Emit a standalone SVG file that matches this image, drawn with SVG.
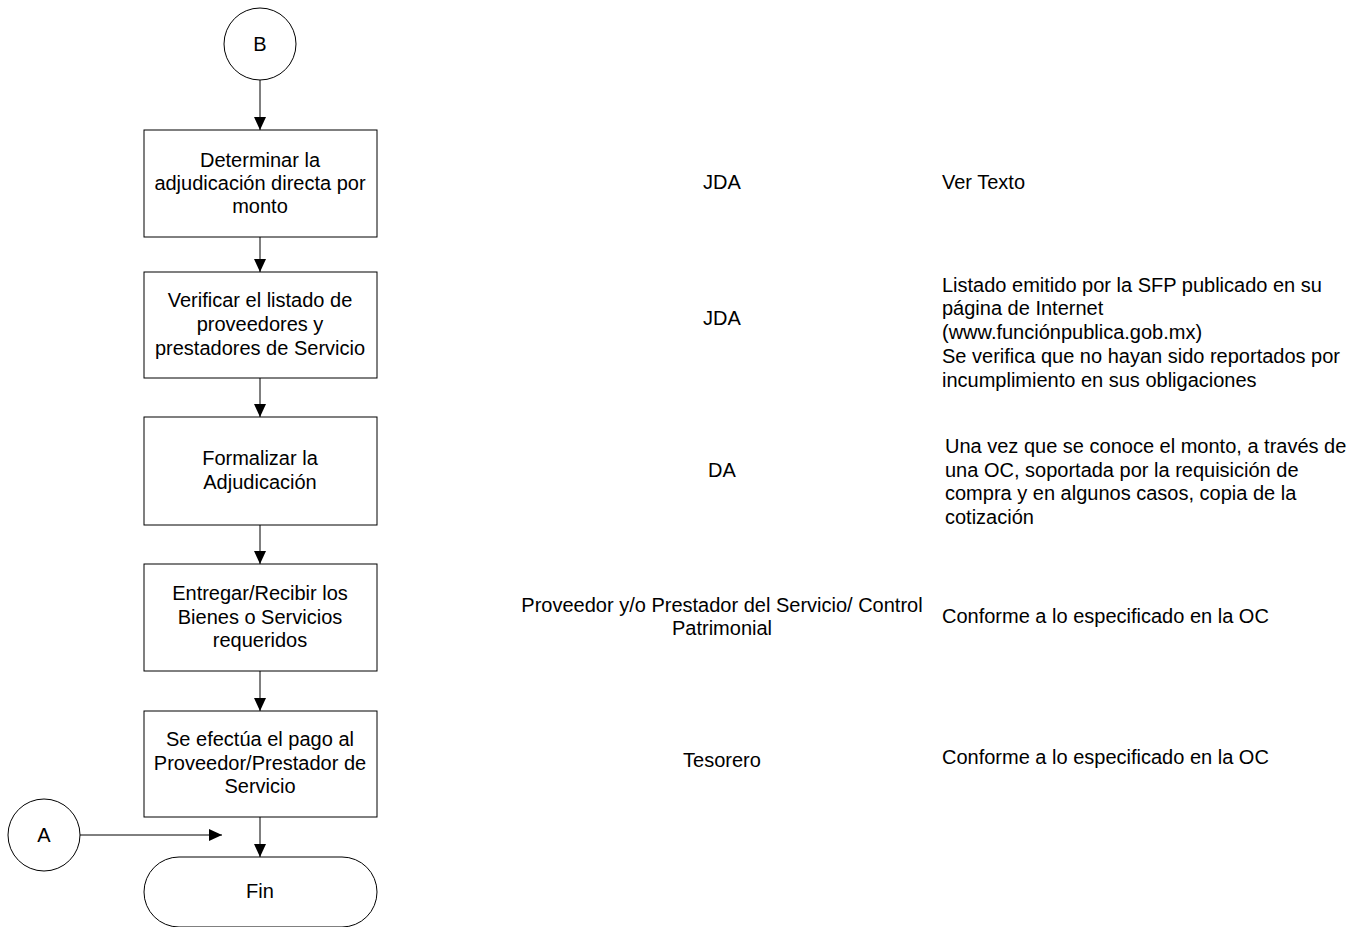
<svg xmlns="http://www.w3.org/2000/svg" width="1366" height="927" viewBox="0 0 1366 927">
<style>
.shape{fill:#ffffff;stroke:#000000;stroke-width:1}
.t{font-family:"Liberation Sans",Arial,sans-serif;font-size:20px;fill:#000000}
.c{text-anchor:middle}
.conn{stroke:#000000;stroke-width:1;fill:none;marker-end:url(#arr)}
</style>
<defs>
<marker id="arr" markerUnits="userSpaceOnUse" markerWidth="14" markerHeight="12" refX="13" refY="6" orient="auto">
<path d="M0,0 L13,6 L0,12 Z" fill="#000000"/>
</marker>
</defs>
<rect width="1366" height="927" fill="#ffffff"/>
<g id="connectors">
<line class="conn" x1="260" y1="80" x2="260" y2="130"/>
<line class="conn" x1="260" y1="237" x2="260" y2="272"/>
<line class="conn" x1="260" y1="378" x2="260" y2="417"/>
<line class="conn" x1="260" y1="525" x2="260" y2="564"/>
<line class="conn" x1="260" y1="671" x2="260" y2="711"/>
<line class="conn" x1="260" y1="817" x2="260" y2="857"/>
<line class="conn" x1="80" y1="835" x2="222" y2="835"/>
</g>
<g id="nodeB">
<circle class="shape" cx="260" cy="44" r="36"/>
<text class="t c" x="260" y="51">B</text>
</g>
<g id="node1">
<rect class="shape" x="144" y="130" width="233" height="107"/>
<text class="t c" x="260" y="167">Determinar la</text>
<text class="t c" x="260" y="190">adjudicación directa por</text>
<text class="t c" x="260" y="213">monto</text>
</g>
<g id="node2">
<rect class="shape" x="144" y="272" width="233" height="106"/>
<text class="t c" x="260" y="307">Verificar el listado de</text>
<text class="t c" x="260" y="331">proveedores y</text>
<text class="t c" x="260" y="355">prestadores de Servicio</text>
</g>
<g id="node3">
<rect class="shape" x="144" y="417" width="233" height="108"/>
<text class="t c" x="260" y="465">Formalizar la</text>
<text class="t c" x="260" y="489">Adjudicación</text>
</g>
<g id="node4">
<rect class="shape" x="144" y="564" width="233" height="107"/>
<text class="t c" x="260" y="600">Entregar/Recibir los</text>
<text class="t c" x="260" y="624">Bienes o Servicios</text>
<text class="t c" x="260" y="647">requeridos</text>
</g>
<g id="node5">
<rect class="shape" x="144" y="711" width="233" height="106"/>
<text class="t c" x="260" y="746">Se efectúa el pago al</text>
<text class="t c" x="260" y="770">Proveedor/Prestador de</text>
<text class="t c" x="260" y="793">Servicio</text>
</g>
<g id="nodeA">
<circle class="shape" cx="44" cy="835" r="36"/>
<text class="t c" x="44" y="842">A</text>
</g>
<g id="nodeFin">
<rect class="shape" x="144" y="857" width="233" height="70" rx="35" ry="35"/>
<text class="t c" x="260" y="898">Fin</text>
</g>
<g id="labels">
<text class="t c" x="722" y="189">JDA</text>
<text class="t" x="942" y="189">Ver Texto</text>
<text class="t c" x="722" y="325">JDA</text>
<text class="t" x="942" y="292">Listado emitido por la SFP publicado en su</text>
<text class="t" x="942" y="315">página de Internet</text>
<text class="t" x="942" y="339">(www.funciónpublica.gob.mx)</text>
<text class="t" x="942" y="363">Se verifica que no hayan sido reportados por</text>
<text class="t" x="942" y="387">incumplimiento en sus obligaciones</text>
<text class="t c" x="722" y="477">DA</text>
<text class="t" x="945" y="453">Una vez que se conoce el monto, a través de</text>
<text class="t" x="945" y="477">una OC, soportada por la requisición de</text>
<text class="t" x="945" y="500">compra y en algunos casos, copia de la</text>
<text class="t" x="945" y="524">cotización</text>
<text class="t c" x="722" y="612">Proveedor y/o Prestador del Servicio/ Control</text>
<text class="t c" x="722" y="635">Patrimonial</text>
<text class="t" x="942" y="623">Conforme a lo especificado en la OC</text>
<text class="t c" x="722" y="767">Tesorero</text>
<text class="t" x="942" y="764">Conforme a lo especificado en la OC</text>
</g>
</svg>
